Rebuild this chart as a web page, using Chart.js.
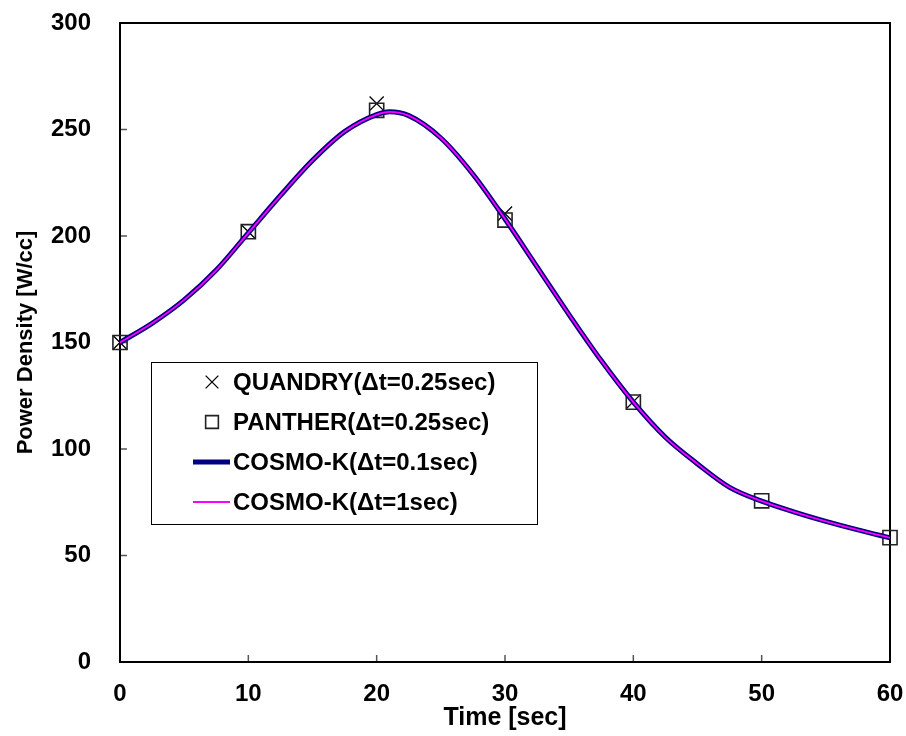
<!DOCTYPE html>
<html>
<head>
<meta charset="utf-8">
<script src="https://cdn.jsdelivr.net/npm/chart.js@4/dist/chart.umd.min.js"></script>
<style>
  body { margin: 0; background: #fff; }
  canvas { display: block; }
</style>
</head>
<body>
<canvas id="grafico" width="906" height="736"></canvas>
<script>
// reference points (markers)
const tempoPontos = [0, 10, 20, 30, 40];
const quandry = [150, 202, 262.2, 210.5, 122.2];
const tempoPanther = [0, 10, 20, 30, 40, 50, 60];
const panther = [150, 202, 259, 207.5, 122, 75.7, 58.4];

// COSMO-K curves
const tempoCurva = [0, 2.5, 5, 7.5, 10, 12.5, 15, 17.5, 20, 21, 22.5, 25, 27.5, 30, 32.5, 35, 37.5, 40, 42.5, 45, 47.5, 50, 52.5, 55, 57.5, 60];
const cosmo01 = [150, 159, 170, 184, 201.5, 219, 235.5, 249, 257, 258.3, 256.5, 246, 229, 208, 185.5, 163, 141.5, 122, 105.5, 93, 82, 75.5, 70.5, 66, 62, 58.3];
const cosmo1 = [150, 159, 170, 184, 201.5, 219, 235.5, 249, 257, 258.3, 256.5, 246, 229, 208, 185.5, 163, 141.5, 122, 105.5, 93, 82, 75.5, 70.5, 66, 62, 58.3];

const xTicks = [0, 10, 20, 30, 40, 50, 60];
const yTicks = [0, 50, 100, 150, 200, 250, 300];

const pares = (xs, ys) => xs.map((x, i) => ({ x: x, y: ys[i] }));

const fonte = "'Liberation Sans', Arial, sans-serif";

// moldura + ticks para dentro
const moldura = {
  id: "moldura",
  beforeDatasetsDraw(chart) {
    const { ctx, chartArea: a, scales } = chart;
    ctx.save();
    ctx.strokeStyle = "#555";
    ctx.lineWidth = 1.5;
    ctx.beginPath();
    xTicks.forEach(v => {
      const px = scales.x.getPixelForValue(v);
      ctx.moveTo(px, a.bottom);
      ctx.lineTo(px, a.bottom - 7);
    });
    yTicks.forEach(v => {
      const py = scales.y.getPixelForValue(v);
      ctx.moveTo(a.left, py);
      ctx.lineTo(a.left + 7, py);
    });
    ctx.stroke();
    ctx.strokeStyle = "#000";
    ctx.lineWidth = 2;
    ctx.strokeRect(a.left, a.top, a.right - a.left, a.bottom - a.top);
    ctx.restore();
  }
};

// legenda dentro do gráfico
const legenda = {
  id: "legenda",
  afterDatasetsDraw(chart) {
    const ctx = chart.ctx;
    ctx.save();
    ctx.fillStyle = "#fff";
    ctx.fillRect(151, 362, 386, 162);
    ctx.strokeStyle = "#000";
    ctx.lineWidth = 1;
    ctx.strokeRect(151.5, 362.5, 386, 162);
    chart.data.datasets.forEach((ds, i) => {
      const y = 382 + i * 40;
      if (ds.showLine === false) {
        ctx.strokeStyle = ds.pointBorderColor;
        ctx.lineWidth = ds.pointBorderWidth;
        ctx.fillStyle = "#fff";
        Chart.helpers.drawPoint(ctx, { pointStyle: ds.pointStyle, radius: 9, borderWidth: ds.pointBorderWidth }, 212, y);
      } else {
        ctx.strokeStyle = ds.borderColor;
        ctx.lineWidth = ds.borderWidth;
        ctx.beginPath();
        ctx.moveTo(193, y);
        ctx.lineTo(230, y);
        ctx.stroke();
      }
      ctx.fillStyle = "#000";
      ctx.font = "bold 24px " + fonte;
      ctx.textAlign = "left";
      ctx.textBaseline = "middle";
      ctx.fillText(ds.label, 233, y + 1);
    });
    ctx.restore();
  }
};

new Chart(document.getElementById("grafico"), {
  type: "line",
  data: {
    datasets: [
      {
        label: "QUANDRY(Δt=0.25sec)",
        data: pares(tempoPontos, quandry),
        showLine: false,
        pointStyle: "crossRot",
        pointRadius: 10,
        pointBorderColor: "#000",
        pointBorderWidth: 1.3,
        clip: false,
        order: 3
      },
      {
        label: "PANTHER(Δt=0.25sec)",
        data: pares(tempoPanther, panther),
        showLine: false,
        pointStyle: "rect",
        pointRadius: 10,
        pointBackgroundColor: "transparent",
        pointBorderColor: "#222",
        pointBorderWidth: 1.6,
        clip: false,
        order: 2
      },
      {
        label: "COSMO-K(Δt=0.1sec)",
        data: pares(tempoCurva, cosmo01),
        borderColor: "#000080",
        borderWidth: 5,
        pointRadius: 0,
        cubicInterpolationMode: "monotone",
        order: 1
      },
      {
        label: "COSMO-K(Δt=1sec)",
        data: pares(tempoCurva, cosmo1),
        borderColor: "#ff00ff",
        borderWidth: 1.8,
        pointRadius: 0,
        cubicInterpolationMode: "monotone",
        order: 0
      }
    ]
  },
  options: {
    responsive: false,
    animation: false,
    layout: { padding: { top: 23, right: 16, bottom: 0, left: 0 } },
    plugins: { legend: { display: false }, tooltip: { enabled: false } },
    scales: {
      x: {
        type: "linear",
        min: 0,
        max: 60,
        afterBuildTicks: s => { s.ticks = xTicks.map(v => ({ value: v })); },
        afterFit: s => { s.height = 74; s.paddingLeft = 0; s.paddingRight = 0; },
        grid: { display: false, drawTicks: false },
        border: { display: false },
        ticks: { padding: 18, color: "#000", font: { family: fonte, size: 24, weight: "bold" } },
        title: {
          display: true,
          text: "Time [sec]",
          color: "#000",
          font: { family: fonte, size: 25, weight: "bold" },
          padding: { top: 0, bottom: 3 }
        }
      },
      y: {
        min: 0,
        max: 300,
        afterBuildTicks: s => { s.ticks = yTicks.map(v => ({ value: v })); },
        afterFit: s => { s.width = 120; s.paddingTop = 0; s.paddingBottom = 0; },
        grid: { display: false, drawTicks: false },
        border: { display: false },
        ticks: { padding: 29, color: "#000", font: { family: fonte, size: 24, weight: "bold" } },
        title: {
          display: true,
          text: "Power Density [W/cc]",
          color: "#000",
          font: { family: fonte, size: 22, weight: "bold" },
          padding: { top: 13, bottom: 0 }
        }
      }
    }
  },
  plugins: [moldura, legenda]
});
</script>
</body>
</html>
